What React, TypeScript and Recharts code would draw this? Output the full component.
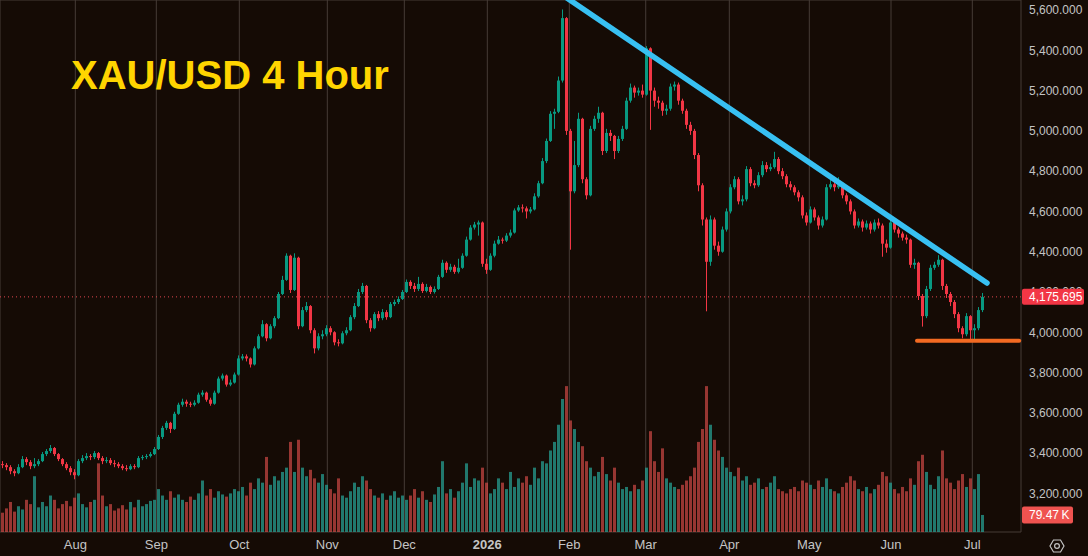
import React from 'react';
import { ComposedChart, Bar, XAxis, YAxis, CartesianGrid, ReferenceLine } from 'recharts';

const W = 1088;
const H = 556;
const BG = '#150b05';
const GRID = '#463c36';
const TEXT = '#c4c4c4';
const UP = '#089981';
const DOWN = '#f23645';
const VOL_UP = '#26a69a';
const VOL_DOWN = '#ef5350';
const FONT = '"Liberation Sans", Arial, sans-serif';

// ---- data (4-hour candles aggregated into slots) ----
const FIRST_OPEN = 3345;
const CLOSE = [
  3340,3330,3310,3300,3330,3370,3355,3335,3345,3360,
  3395,3410,3425,3395,3370,3345,3325,3305,3290,3360,
  3375,3385,3380,3400,3375,3360,3365,3350,3345,3335,
  3325,3320,3335,3330,3375,3380,3385,3395,3420,3480,
  3525,3550,3520,3595,3640,3655,3645,3640,3650,3690,
  3700,3665,3645,3700,3770,3785,3740,3750,3790,3870,
  3880,3870,3840,3920,3980,4040,3970,4030,4070,4190,
  4260,4380,4210,4370,4030,4110,4130,4010,3920,3980,
  3990,4020,4000,3950,3945,3995,4010,4075,4130,4200,
  4230,4060,4020,4090,4070,4100,4075,4140,4150,4165,
  4200,4250,4230,4215,4240,4205,4225,4200,4215,4275,
  4345,4310,4325,4300,4320,4380,4460,4520,4535,4545,
  4340,4310,4380,4440,4460,4455,4480,4495,4605,4620,
  4615,4600,4610,4675,4740,4850,4950,5085,5095,5250,
  5560,5000,4700,4830,5060,4760,4680,5010,5060,5090,
  4900,4990,4975,4900,4960,5010,5150,5215,5190,5200,
  5180,5410,5200,5150,5140,5100,5110,5220,5230,5150,
  5100,5030,5000,4880,4730,4560,4350,4560,4430,4400,
  4510,4600,4720,4760,4650,4660,4810,4740,4730,4780,
  4830,4810,4820,4860,4800,4775,4735,4720,4695,4670,
  4580,4545,4610,4570,4530,4560,4720,4735,4720,4730,
  4680,4650,4600,4530,4550,4520,4540,4510,4545,4530,
  4440,4420,4545,4510,4490,4470,4460,4335,4345,4180,
  4080,4215,4320,4335,4360,4230,4190,4150,4090,4020,
  3990,4080,4010,4020,4110,4175.695,
];
const HIGH = [
  3360,3350,3340,3320,3345,3385,3380,3365,3375,3370,
  3405,3420,3440,3430,3400,3375,3355,3335,3320,3370,
  3390,3400,3395,3410,3405,3385,3380,3375,3365,3355,
  3345,3340,3345,3345,3385,3390,3395,3405,3430,3490,
  3535,3560,3555,3605,3650,3670,3665,3655,3662,3700,
  3712,3705,3675,3710,3780,3795,3790,3765,3800,3885,
  3892,3890,3875,3930,3990,4060,4045,4040,4080,4200,
  4280,4392,4385,4392,4375,4125,4150,4135,4020,3995,
  4010,4035,4030,4005,3965,4005,4025,4085,4145,4215,
  4245,4235,4070,4100,4105,4115,4110,4150,4162,4178,
  4210,4262,4258,4245,4275,4248,4240,4232,4228,4285,
  4360,4352,4340,4335,4365,4392,4475,4532,4548,4555,
  4550,4365,4392,4455,4478,4470,4492,4510,4615,4632,
  4635,4625,4622,4690,4752,4865,4962,5098,5110,5270,
  5603,5565,5010,4950,5090,5065,4770,5025,5075,5120,
  5095,5010,5005,4980,4975,5025,5165,5235,5225,5215,
  5230,5421,5415,5215,5170,5150,5130,5235,5245,5240,
  5160,5110,5045,5010,4890,4740,4570,4580,4570,4450,
  4525,4615,4735,4775,4770,4680,4825,4820,4755,4795,
  4850,4845,4838,4896,4870,4815,4785,4750,4730,4705,
  4680,4595,4625,4620,4580,4575,4735,4760,4750,4770,
  4740,4690,4660,4610,4565,4560,4555,4550,4560,4565,
  4540,4460,4580,4555,4520,4500,4485,4465,4365,4350,
  4190,4230,4335,4350,4383,4365,4240,4200,4160,4100,
  4030,4095,4085,4040,4125,4195,
];
const LOW = [
  3325,3315,3295,3285,3295,3325,3340,3320,3325,3335,
  3355,3385,3400,3385,3360,3335,3315,3290,3270,3285,
  3350,3365,3365,3370,3365,3345,3350,3340,3330,3325,
  3315,3310,3315,3320,3325,3365,3370,3378,3390,3415,
  3470,3515,3500,3515,3590,3630,3630,3628,3632,3645,
  3680,3655,3635,3640,3695,3760,3730,3732,3745,3785,
  3860,3855,3825,3835,3915,3975,3955,3965,4020,4065,
  4185,4255,4195,4205,4015,4025,4100,3995,3895,3910,
  3965,3980,3985,3935,3930,3940,3985,4005,4065,4125,
  4190,4045,4003,4015,4055,4060,4062,4070,4130,4140,
  4160,4195,4215,4200,4205,4195,4198,4190,4192,4210,
  4270,4295,4300,4290,4292,4315,4375,4455,4510,4480,
  4325,4290,4305,4372,4435,4440,4448,4470,4490,4598,
  4595,4565,4590,4605,4668,4735,4840,4945,5010,5088,
  5240,4980,4410,4690,4820,4740,4660,4675,5000,5040,
  4880,4890,4950,4860,4890,4950,5005,5140,5165,5175,
  5165,5175,5005,5120,5110,5075,5080,5100,5200,5130,
  5085,5010,4980,4860,4700,4530,4104,4330,4410,4380,
  4395,4500,4590,4710,4635,4630,4650,4725,4715,4722,
  4770,4795,4800,4812,4785,4760,4720,4705,4680,4650,
  4565,4530,4540,4555,4510,4520,4555,4710,4700,4712,
  4665,4635,4585,4515,4520,4500,4510,4490,4500,4515,
  4375,4395,4415,4495,4470,4455,4440,4320,4315,4160,
  4028,4070,4205,4310,4325,4210,4170,4130,4070,4000,
  3970,3980,3954,3960,4010,4100,
];
// volume in thousands
const VOLUME = [
  90,110,140,95,120,105,150,130,260,115,
  140,120,170,150,110,130,145,120,160,180,
  130,115,140,150,320,170,120,130,100,110,
  125,105,140,115,150,120,130,145,150,200,
  170,150,190,160,175,150,140,165,150,180,
  240,170,200,160,190,175,165,180,200,190,
  210,170,230,200,250,230,350,220,260,240,
  280,300,420,280,430,300,260,290,250,230,
  270,220,200,180,250,170,160,190,230,210,
  260,240,200,170,160,180,150,170,190,160,
  170,150,170,200,160,190,150,140,175,210,
  330,180,200,160,190,230,320,210,250,240,
  300,230,180,200,250,230,200,280,210,250,
  230,260,220,300,250,330,320,380,420,500,
  620,680,520,480,420,400,330,300,260,280,
  350,270,240,300,230,200,210,190,220,200,
  240,300,470,330,280,390,250,230,210,200,
  220,240,260,300,420,480,680,500,430,380,
  350,300,280,260,300,240,260,220,230,250,
  200,210,230,260,200,190,180,200,210,190,
  240,230,220,200,240,210,250,200,190,180,
  210,230,260,240,200,190,210,180,200,220,
  280,260,230,200,180,210,190,250,220,330,
  360,280,220,200,260,380,250,230,200,240,
  270,210,250,200,270,79.47,
];

const LAST_PRICE = 4175.695;
const LAST_VOLUME = 79.47;
const LAST_VOLUME_LABEL = '79.47\u2009K';

const PRICE_TICKS = [3200, 3400, 3600, 3800, 4000, 4200, 4400, 4600, 4800, 5000, 5200, 5400, 5600];
const PRICE_DOMAIN = [3008, 5650];
const X_DOMAIN = [-0.5, 254.75];
const MONTH_TICKS = [18.33, 38.58, 59.33, 81.33, 100.58, 121.33, 141.83, 160.93, 181.83, 201.83, 222.25, 242.58];
const MONTH_LABELS = ['Aug', 'Sep', 'Oct', 'Nov', 'Dec', '2026', 'Feb', 'Mar', 'Apr', 'May', 'Jun', 'Jul'];
const VOLUME_DOMAIN = [0, 2480];

const TREND_LINE = [{ x: 141, y: 5663 }, { x: 246.25, y: 4244.5 }];
const SUPPORT_LINE = [{ x: 228.75, y: 3958 }, { x: 254.3, y: 3958 }];

const TITLE = 'XAU/USD 4 Hour';

const data = CLOSE.map((close, i) => {
  const open = i === 0 ? FIRST_OPEN : CLOSE[i - 1];
  return {
    i,
    open,
    close,
    high: HIGH[i],
    low: LOW[i],
    range: [LOW[i], HIGH[i]],
    volume: VOLUME[i],
    up: close >= open,
  };
});

const fmtPrice = (v: number) =>
  v.toLocaleString('en-US', { minimumFractionDigits: 3, maximumFractionDigits: 3 });

function Candle(props: any) {
  const { x, y, width, height, payload } = props;
  if (!payload || !isFinite(y) || !isFinite(height)) return null;
  const top = Math.min(y, y + height);
  const h = Math.abs(height);
  const { open, close, high, low, up } = payload;
  const span = high - low || 1;
  const yOf = (v: number) => top + ((high - v) / span) * h;
  const color = up ? UP : DOWN;
  const cx = x + width / 2;
  const b1 = yOf(Math.max(open, close));
  const b2 = yOf(Math.min(open, close));
  return (
    <g>
      <line x1={cx} x2={cx} y1={top} y2={top + h} stroke={color} strokeWidth={1} />
      <rect x={x} y={b1} width={width} height={Math.max(1, b2 - b1)} fill={color} />
    </g>
  );
}

function VolumeBar(props: any) {
  const { x, y, width, height, payload } = props;
  if (!payload || !isFinite(y)) return null;
  const top = Math.min(y, y + height);
  return (
    <rect x={x} y={top} width={width} height={Math.abs(height)}
      fill={payload.up ? VOL_UP : VOL_DOWN} fillOpacity={payload.up ? 0.7 : 0.6} />
  );
}

function MonthTick(props: any) {
  const { x, y, payload } = props;
  let idx = 0;
  let best = Infinity;
  MONTH_TICKS.forEach((t, k) => {
    const d = Math.abs(t - payload.value);
    if (d < best) { best = d; idx = k; }
  });
  const label = MONTH_LABELS[idx];
  return (
    <text x={x} y={y} dy="0.71em" textAnchor="middle" fill={TEXT} fontSize={13}
      fontWeight={label === '2026' ? 700 : 400} fontFamily={FONT}>
      {label}
    </text>
  );
}

// price-scale label drawn at the right of a horizontal reference line
function PriceLabel(props: any) {
  const vb = props.viewBox;
  if (!vb) return null;
  return (
    <text x={vb.x + vb.width + 8} y={vb.y} dy="0.36em" fill={TEXT} fontSize={12} fontFamily={FONT}>
      {fmtPrice(props.value)}
    </text>
  );
}

function PriceTag(props: any) {
  const vb = props.viewBox;
  if (!vb) return null;
  const x0 = vb.x + vb.width;
  const yc = vb.y;
  return (
    <g>
      <rect x={x0 + 1} y={yc - 8} width={62} height={16} rx={2} fill={DOWN} />
      <text x={x0 + 8} y={yc} dy="0.36em" fill="#ffffff" fontSize={12} fontFamily={FONT}>
        {fmtPrice(LAST_PRICE)}
      </text>
    </g>
  );
}

function VolumeTag(props: any) {
  const vb = props.viewBox;
  if (!vb) return null;
  const x0 = vb.x + vb.width;
  const yc = vb.y;
  return (
    <g>
      <rect x={x0 + 1} y={yc - 8.5} width={51} height={17} rx={2} fill="#ef5350" />
      <text x={x0 + 8} y={yc} dy="0.36em" fill="#ffffff" fontSize={12} fontFamily={FONT}>
        {LAST_VOLUME_LABEL}
      </text>
    </g>
  );
}

export default function App() {
  return (
    <div style={{ position: 'absolute', left: 0, top: 0, width: W, height: H, background: BG, overflow: 'hidden' }}>
      <ComposedChart width={W} height={H} data={data} margin={{ top: 0, right: 0, bottom: 0, left: 0 }}>
        <CartesianGrid xAxisId="x" yAxisId="p" stroke={GRID} strokeWidth={1} />
        <XAxis
          xAxisId="x"
          type="number"
          dataKey="i"
          domain={X_DOMAIN}
          allowDataOverflow
          ticks={MONTH_TICKS}
          interval={0}
          tick={<MonthTick />}
          tickLine={false}
          axisLine={false}
          height={24}
        />
        <XAxis xAxisId="vx" type="number" dataKey="i" domain={X_DOMAIN} allowDataOverflow hide height={0} />
        <YAxis
          yAxisId="p"
          orientation="right"
          domain={PRICE_DOMAIN}
          allowDataOverflow
          ticks={PRICE_TICKS}
          interval={0}
          tick={false}
          tickLine={false}
          axisLine={false}
          width={67}
        />
        <YAxis yAxisId="vol" orientation="right" domain={VOLUME_DOMAIN} allowDataOverflow hide width={0} />
        <Bar
          xAxisId="vx"
          yAxisId="vol"
          dataKey="volume"
          barSize={3}
          shape={(p: any) => <VolumeBar {...p} />}
          isAnimationActive={false}
        />
        <Bar
          xAxisId="x"
          yAxisId="p"
          dataKey="range"
          barSize={3}
          shape={(p: any) => <Candle {...p} />}
          isAnimationActive={false}
        />
        {PRICE_TICKS.map((t) => (
          <ReferenceLine
            key={t}
            xAxisId="x"
            yAxisId="p"
            y={t}
            stroke="none"
            strokeOpacity={0}
            label={(p: any) => <PriceLabel {...p} value={t} />}
          />
        ))}
        <ReferenceLine
          xAxisId="x"
          yAxisId="p"
          y={LAST_PRICE}
          stroke="#e0474f"
          strokeWidth={1}
          strokeDasharray="1 3"
          label={(p: any) => <PriceTag {...p} />}
        />
        <ReferenceLine
          xAxisId="vx"
          yAxisId="vol"
          y={LAST_VOLUME}
          stroke="none"
          strokeOpacity={0}
          label={(p: any) => <VolumeTag {...p} />}
        />
        <ReferenceLine
          xAxisId="x"
          yAxisId="p"
          segment={TREND_LINE}
          stroke="#38c0f2"
          strokeWidth={5.5}
          strokeLinecap="round"
          ifOverflow="hidden"
        />
        <ReferenceLine
          xAxisId="x"
          yAxisId="p"
          segment={SUPPORT_LINE}
          stroke="#f26a22"
          strokeWidth={4}
          strokeLinecap="round"
          ifOverflow="visible"
        />
      </ComposedChart>
      <svg width={W} height={H} style={{ position: 'absolute', left: 0, top: 0, pointerEvents: 'none' }}>
        <text x={71} y={88.5} fill="#FFD500" fontSize={40} fontWeight={700} fontFamily={FONT}>
          {TITLE}
        </text>
        <g transform="translate(1057,546)" fill="none" stroke={TEXT} strokeWidth={1.2}>
          <polygon points="7,0 3.5,6 -3.5,6 -7,0 -3.5,-6 3.5,-6" />
          <circle cx={0} cy={0} r={2.4} />
        </g>
      </svg>
    </div>
  );
}
